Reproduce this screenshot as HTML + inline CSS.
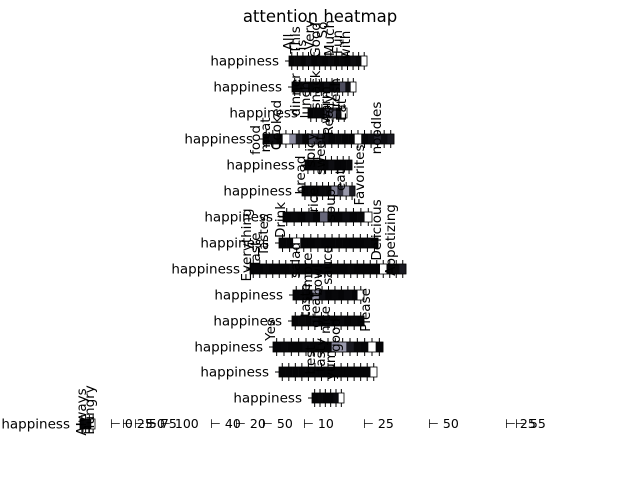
<!DOCTYPE html>
<html><head><meta charset="utf-8"><style>
html,body{margin:0;padding:0;background:#fff;}
svg{display:block;font-family:"DejaVu Sans","Liberation Sans",sans-serif;}
</style></head><body>
<svg id="chart" width="640" height="480" viewBox="0 0 640 480">
<text x="320" y="22" font-size="16.5" text-anchor="middle">attention heatmap</text>
<g id="rows"></g>
<g id="words" font-size="13.5" fill="#000"></g>
</svg>
<script>
const rowLabels = ["happiness","happiness","happiness","happiness","happiness","happiness","happiness","happiness","happiness","happiness","happiness","happiness","happiness","happiness","happiness"];
const rowCenters = [61,87,113,139,165,191,217,243,269,295,321,347,372,398,424];
const rowStart = [289,292,308,263,305,302,283,279,250,293,292,273,279,312,80];
const rowEnd = [367,356,347,394,352,355,372,378,406,364,364,383,377,344,95];
const rowValues = [
 [0.02,0.03,0.02,0.05,0.02,0.03,0.02,0.04,0.02,0.03,0.02,0.05,0.03,1.0],
 [0.02,0.03,0.08,0.02,0.03,0.02,0.05,0.02,0.04,0.3,0.05,1.0],
 [0.02,0.03,0.02,0.2,0.35,0.05,1.0],
 [0.02,0.05,0.02,1.0,0.55,0.1,0.02,0.25,0.15,0.05,0.02,0.03,0.02,0.02,1.0,0.03,0.05,0.15,0.05,0.1],
 [0.02,0.02,0.03,0.02,0.05,0.02,0.02,0.03],
 [0.02,0.03,0.02,0.04,0.03,0.5,0.2,0.6,0.1],
 [0.02,0.03,0.02,0.05,0.02,0.4,0.03,0.02,0.05,0.02,0.03,1.0],
 [0.02,0.02,1.0,0.02,0.02,0.03,0.02,0.02,0.02,0.02,0.02,0.02,0.03,0.02],
 [0.02,0.02,0.03,0.02,0.02,0.02,0.03,0.02,0.02,0.02,0.02,0.02,0.02,0.02,0.02,0.03,0.02,0.02,0.02,0.02,1.0,0.02,0.03,0.1],
 [0.02,0.03,0.02,0.6,0.05,0.02,0.03,0.02,0.04,0.02,1.0],
 [0.02,0.03,0.02,0.05,0.02,0.03,0.02,0.04,0.02,0.03,0.02],
 [0.02,0.03,0.02,0.02,0.04,0.02,0.03,0.02,0.55,0.6,0.1,0.03,0.02,1.0,0.02],
 [0.02,0.02,0.02,0.02,0.02,0.02,0.02,0.02,0.02,0.02,0.02,0.02,0.02,0.02,1.0],
 [0.02,0.03,0.02,0.02,0.04,1.0],
 [0.02,0.03,0.02,1.0]
];
const wordLabels = ["All","This","is","Very","Good","So","Much","Fun","with","food","meat","Cooked","Really","noodles","Always","Taste","Delicious","Appetizing","Favorites","Please","Hungry","Everything","Tastes","Drink","Yes","Eat","dinner","lunch","snack","warm","fresh","spicy","sweet","bread","rice","soup","salad","more","bowl","sauce","taste","great","nice","good","best","tasty","yum","eat"];
const wordX = [293,300,306,314,320,327,334,342,350,260,270,281,333,381,86,260,381,395,364,370,94,251,268,285,275,346,300,310,320,330,340,315,325,305,318,335,300,312,322,332,310,320,330,340,315,325,335,345];
const wordY = [42,40,45,35,40,30,38,42,45,140,135,125,115,128,412,250,230,240,175,310,410,245,235,220,330,110,95,100,90,105,95,150,155,175,200,205,260,270,280,265,300,310,320,335,360,355,365,180];

const NS="http://www.w3.org/2000/svg";
function shade(v){const c=Math.round(255*v);return `rgb(${c},${c},${Math.min(255,c+Math.round(20*v*(1-v)*4))})`;}
const rows=document.getElementById('rows');
rowLabels.forEach((lab,i)=>{
  const y=rowCenters[i], x0=rowStart[i], x1=rowEnd[i], vals=rowValues[i];
  const g=document.createElementNS(NS,'g');
  
  
  const t=document.createElementNS(NS,'text');
  t.setAttribute('x',x0-10);t.setAttribute('y',y+4.5);t.setAttribute('font-size','13.5');t.setAttribute('text-anchor','end');
  t.textContent=lab;
  
  
  g.appendChild(t);
  const tk=document.createElementNS(NS,'line');
  tk.setAttribute('x1',x0-4);tk.setAttribute('x2',x0);tk.setAttribute('y1',y);tk.setAttribute('y2',y);tk.setAttribute('stroke','#000');
  g.appendChild(tk);
  const w=(x1-x0)/vals.length;
  vals.forEach((v,j)=>{
    const r=document.createElementNS(NS,'rect');
    r.setAttribute('x',x0+j*w);r.setAttribute('y',y-5);r.setAttribute('width',w+0.3);r.setAttribute('height',10);
    r.setAttribute('fill',shade(v));
    
    
    g.appendChild(r);
    const cx=x0+(j+0.5)*w;
    const l=document.createElementNS(NS,'line');
    l.setAttribute('x1',cx);l.setAttribute('x2',cx);l.setAttribute('y1',y+5);l.setAttribute('y2',y+9);l.setAttribute('stroke','#000');
    g.appendChild(l);
    const l2=document.createElementNS(NS,'line');
    l2.setAttribute('x1',cx);l2.setAttribute('x2',cx);l2.setAttribute('y1',y-9);l2.setAttribute('y2',y-5);l2.setAttribute('stroke','#000');
    g.appendChild(l2);
  });
  const b=document.createElementNS(NS,'rect');
  b.setAttribute('x',x0);b.setAttribute('y',y-5);b.setAttribute('width',x1-x0);b.setAttribute('height',10);
  b.setAttribute('fill','none');b.setAttribute('stroke','#000');b.setAttribute('stroke-width','0.8');
  g.appendChild(b);
  rows.appendChild(g);
});
const words=document.getElementById('words');
wordLabels.forEach((w,i)=>{
  const t=document.createElementNS(NS,'text');
  t.setAttribute('transform',`translate(${wordX[i]},${wordY[i]}) rotate(-90)`);
  t.setAttribute('text-anchor','middle');
  t.textContent=w;
  
  
  words.appendChild(t);
});
const bottomTicks=["0","25","50","75","100","40","20","50","10","25","50","25","55"];
const bottomX=[110,122,134,146,160,210,235,262,303,363,428,505,515];
bottomTicks.forEach((s,i)=>{
  const t=document.createElementNS(NS,'text');
  t.setAttribute('x',bottomX[i]);t.setAttribute('y',428);t.setAttribute('font-size','12.5');
  t.textContent='⊢ '+s;
  
  
  words.appendChild(t);
});
</script>
</body></html>
